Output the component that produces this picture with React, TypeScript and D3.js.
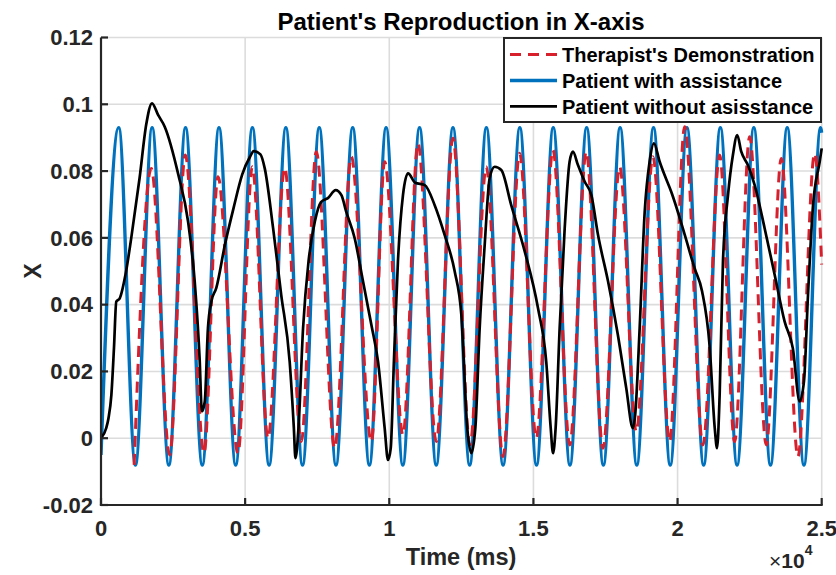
import React from 'react';
import * as d3 from 'd3';

const xTickValues = [0, 5000, 10000, 15000, 20000, 25000];
const xTickLabels = ['0', '0.5', '1', '1.5', '2', '2.5'];
const yTickValues = [-0.02, 0, 0.02, 0.04, 0.06, 0.08, 0.1, 0.12];
const yTickLabels = ['-0.02', '0', '0.02', '0.04', '0.06', '0.08', '0.1', '0.12'];

const legendLabels = ["Therapist's Demonstration", 'Patient with assistance', 'Patient without asisstance'];

// Patient with assistance (blue): start, alternating peaks / troughs, end
const blueTime = [0, 614, 1194, 1774, 2353, 2933, 3513, 4093, 4672, 5252, 5832, 6412, 6991, 7571, 8151, 8731, 9310, 9890, 10470,
  11050, 11629, 12209, 12789, 13369, 13948, 14528, 15108, 15688, 16267, 16847, 17427, 18007, 18586, 19166, 19746,
  20326, 20905, 21485, 22065, 22645, 23224, 23804, 24384, 24964, 25000];
const blueValue = [-0.005, 0.093, -0.008, 0.093, -0.008, 0.093, -0.008, 0.093, -0.008, 0.093, -0.008, 0.093, -0.008, 0.093,
  -0.008, 0.093, -0.008, 0.093, -0.008, 0.093, -0.008, 0.093, -0.008, 0.093, -0.008, 0.093, -0.008, 0.093, -0.008,
  0.093, -0.008, 0.093, -0.008, 0.093, -0.008, 0.093, -0.008, 0.093, -0.008, 0.093, -0.008, 0.093, -0.008, 0.093, 0.0915];

// Therapist's demonstration (red dashed)
const redTime = [1150, 1745, 2382, 2924, 3573, 4058, 4752, 5248, 5793, 6372, 6948, 7468, 8106, 8682, 9376, 9840, 10475,
  10995, 11630, 12209, 12800, 13364, 13944, 14523, 15099, 15678, 16260, 16833, 17412, 17992, 18568, 19147, 19726,
  20246, 20881, 21460, 21980, 22501, 23078, 23597, 24176, 24755, 25000];
const redValue = [-0.008, 0.0808, -0.005, 0.0848, -0.0045, 0.0783, -0.0045, 0.0813, 0.0, 0.081, -0.001, 0.0858, -0.003,
  0.0843, -0.001, 0.0828, 0.001, 0.0883, -0.001, 0.0898, -0.002, 0.0813, -0.0055, 0.0853, 0.0, 0.0863, -0.002, 0.0858,
  -0.003, 0.0813, 0.002, 0.0843, -0.001, 0.0933, -0.002, 0.0848, -0.001, 0.0903, -0.002, 0.0838, -0.0055, 0.0853, 0.052];

// Patient without assistance (black)
const blackTime = [0, 180, 260, 360, 450, 530, 650, 850, 1050, 1340, 1570, 1770, 1980, 2210, 2680, 3020, 3250, 3420, 3500,
  3600, 3710, 3830, 4000, 4300, 4600, 4900, 5170, 5300, 5530, 5680, 5970, 6250, 6545, 6690, 6745, 6850, 7010, 7200,
  7420, 7640, 7870, 8140, 8340, 8500, 8800, 9090, 9380, 9610, 9840, 9955, 10050, 10160, 10300, 10475, 10650, 10900,
  11230, 11575, 11920, 12270, 12500, 12705, 12845, 12985, 13135, 13310, 13480, 13655, 13885, 14230, 14700, 15160,
  15445, 15600, 15680, 15770, 15910, 16085, 16255, 16370, 16545, 16780, 17010, 17240, 17590, 17930, 18220, 18450,
  18530, 18685, 18860, 19030, 19180, 19380, 19550, 19780, 20250, 20590, 20850, 21110, 21290, 21370, 21460, 21575,
  21750, 21920, 22070, 22210, 22440, 22675, 23020, 23370, 23715, 24000, 24235, 24385, 24525, 24700, 24930, 25000];
const blackValue = [0, 0.003, 0.006, 0.013, 0.027, 0.0409, 0.0419, 0.049, 0.06, 0.078, 0.094, 0.1003, 0.0968, 0.0933,
  0.079, 0.0649, 0.047, 0.024, 0.008, 0.011, 0.033, 0.041, 0.045, 0.058, 0.069, 0.079, 0.0843, 0.086, 0.085, 0.0808,
  0.0629, 0.043, 0.0229, 0.003, -0.006, 0.003, 0.033, 0.053, 0.065, 0.0708, 0.0719, 0.0743, 0.0728, 0.068, 0.0599,
  0.0469, 0.0339, 0.0229, 0.003, -0.0065, -0.003, 0.0229, 0.0529, 0.0728, 0.0793, 0.0765, 0.0758, 0.0698, 0.0609,
  0.0499, 0.0369, 0.003, -0.0045, 0.003, 0.0329, 0.0579, 0.0778, 0.0813, 0.0803, 0.0698, 0.0559, 0.0389, 0.0229,
  0.003, -0.0045, 0.003, 0.0329, 0.0629, 0.0828, 0.0858, 0.0818, 0.0768, 0.0728, 0.0609, 0.0469, 0.0309, 0.015,
  0.003, 0.007, 0.0329, 0.0678, 0.0828, 0.0883, 0.0828, 0.0788, 0.0738, 0.0609, 0.0509, 0.044, 0.0279, 0.003,
  -0.003, 0.013, 0.0529, 0.0728, 0.0848, 0.0908, 0.0858, 0.0818, 0.0758, 0.0629, 0.0489, 0.0349, 0.0269, 0.011,
  0.017, 0.0429, 0.0698, 0.0828, 0.0868];

const FONT = "'Liberation Sans', Arial, Helvetica, sans-serif";
const AXIS = '#262626';
const BLUE = '#0072BD';
const RED = '#D8202C';

export default function App() {
  const W = 836;
  const H = 575;
  const x = d3.scaleLinear().domain([0, 25000]).range([101, 821.7]);
  const y = d3.scaleLinear().domain([-0.02, 0.12]).range([505, 37.5]);
  const line = d3
    .line<[number, number]>()
    .x((d) => x(d[0]))
    .y((d) => y(d[1]))
    .curve(d3.curveMonotoneX);

  const zip = (t: number[], v: number[]) => t.map((tt, i) => [tt, v[i]] as [number, number]);
  const bluePath = line(zip(blueTime, blueValue)) || '';
  const redPath = line(zip(redTime, redValue)) || '';
  const blackPath = line(zip(blackTime, blackValue)) || '';

  const [x0, x1] = x.range();
  const [y0, y1] = y.range();

  const legendX = 504;
  const legendY = 38;
  const legendW = 317;
  const legendH = 84;
  const rowY = [54.5, 80.5, 106.3];
  const legendStyles = [
    { stroke: RED, dash: '11,7', width: 3 },
    { stroke: BLUE, dash: undefined, width: 3.4 },
    { stroke: '#000', dash: undefined, width: 2.7 },
  ];

  return (
    <svg width={W} height={H} style={{ position: 'absolute', left: 0, top: 0, background: '#fff' }}
      fontFamily={FONT}>
      <rect x={0} y={0} width={W} height={H} fill="#fff" />
      <defs>
        <clipPath id="plotclip">
          <rect x={x0} y={y1 - 2} width={x1 - x0 + 2} height={y0 - y1 + 2} />
        </clipPath>
      </defs>
      {/* grid */}
      <g stroke="#dcdcdc" strokeWidth={1.6}>
        {xTickValues.map((v) => (
          <line key={'gx' + v} x1={x(v)} x2={x(v)} y1={y0} y2={y1} />
        ))}
        {yTickValues.map((v) => (
          <line key={'gy' + v} x1={x0} x2={x1} y1={y(v)} y2={y(v)} />
        ))}
      </g>
      {/* series */}
      <g clipPath="url(#plotclip)" fill="none" strokeLinejoin="round">
        <path d={bluePath} stroke={BLUE} strokeWidth={3.4} />
        <path d={redPath} stroke={RED} strokeWidth={3} strokeDasharray="11,7" />
        <path d={blackPath} stroke="#000" strokeWidth={2.7} />
      </g>
      {/* axes */}
      <g stroke={AXIS} strokeWidth={2.2}>
        <line x1={x0} x2={x0} y1={y0 + 1.1} y2={y1} />
        <line x1={x0 - 1.1} x2={x1 + 1} y1={y0} y2={y0} />
        {xTickValues.map((v) => (
          <line key={'tx' + v} x1={x(v)} x2={x(v)} y1={y0} y2={y0 - 7} />
        ))}
        {yTickValues.map((v) => (
          <line key={'ty' + v} x1={x0} x2={x0 + 7} y1={y(v)} y2={y(v)} />
        ))}
      </g>
      {/* tick labels */}
      <g fill={AXIS} fontWeight="bold" fontSize={22}>
        {xTickValues.map((v, i) => (
          <text key={'lx' + v} x={x(v)} y={536} textAnchor="middle">
            {xTickLabels[i]}
          </text>
        ))}
        {yTickValues.map((v, i) => (
          <text key={'ly' + v} x={93} y={y(v) + 7.8} textAnchor="end">
            {yTickLabels[i]}
          </text>
        ))}
      </g>
      {/* exponent */}
      <text x={769} y={568} fill={AXIS} fontSize={21}>
        ×
        <tspan fontWeight="bold">10</tspan>
        <tspan fontWeight="bold" fontSize={14} dy={-13}>4</tspan>
      </text>
      {/* axis labels */}
      <text x={461} y={565} textAnchor="middle" fontWeight="bold" fontSize={23.5} fill={AXIS}>
        Time (ms)
      </text>
      <text transform="translate(41,271) rotate(-90)" textAnchor="middle" fontWeight="bold" fontSize={23} fill={AXIS}>
        X
      </text>
      {/* title */}
      <text x={461} y={29.5} textAnchor="middle" fontWeight="bold" fontSize={24} fill="#000">
        Patient's Reproduction in X-axis
      </text>
      {/* legend */}
      <rect x={legendX} y={legendY} width={legendW} height={legendH} fill="#fff" stroke={AXIS} strokeWidth={2} />
      {legendLabels.map((lab, i) => (
        <g key={lab}>
          <line x1={510} x2={557} y1={rowY[i]} y2={rowY[i]} stroke={legendStyles[i].stroke}
            strokeWidth={legendStyles[i].width} strokeDasharray={legendStyles[i].dash} />
          <text x={562} y={rowY[i] + 7.5} fontWeight="bold" fontSize={20} fill="#000">
            {lab}
          </text>
        </g>
      ))}
    </svg>
  );
}
